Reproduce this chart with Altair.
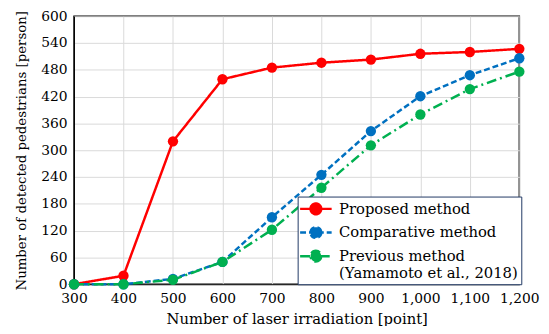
import altair as alt
import pandas as pd

x_points = [300, 400, 500, 600, 700, 800, 900, 1000, 1100, 1200]
proposed = [0, 19, 320, 459, 485, 496, 503, 516, 520, 527]
comparative = [0, 0, 12, 50, 150, 245, 343, 421, 468, 506]
previous = [0, 0, 10, 50, 122, 216, 311, 380, 437, 476]

series_names = ["Proposed method", "Comparative method",
                "Previous method (Yamamoto et al., 2018)"]
series_colors = ["#FF0000", "#0070C0", "#00B050"]
series_dashes = [[1, 0], [6, 3], [10, 4, 2, 4]]

rows = []
for name, vals in zip(series_names, [proposed, comparative, previous]):
    for xv, yv in zip(x_points, vals):
        rows.append({"x": xv, "y": yv, "series": name})
df = pd.DataFrame(rows)

FONT = "DejaVu Serif"

color = alt.Color("series:N", scale=alt.Scale(domain=series_names, range=series_colors),
                  legend=alt.Legend(
                      title=None, orient="none", legendX=227, legendY=183,
                      labelFont=FONT, labelFontSize=15, labelColor="black",
                      labelLimit=400,
                      labelExpr="datum.label == 'Previous method (Yamamoto et al., 2018)' ? ['Previous method', '(Yamamoto et al., 2018)'] : datum.label",
                      symbolType="M -2 0 L 2 0 M 0.68 0 A 0.68 0.68 0 1 1 -0.68 0 A 0.68 0.68 0 1 1 0.68 0 Z",
                      symbolSize=256, symbolStrokeWidth=2.5,
                      strokeColor="#1F3864", fillColor="white", padding=3,
                      symbolOffset=6, rowPadding=3, labelOffset=14))
dash = alt.StrokeDash("series:N", scale=alt.Scale(domain=series_names, range=series_dashes),
                      legend=None)

xenc = alt.X("x:Q", scale=alt.Scale(domain=[300, 1200], nice=False),
             axis=alt.Axis(values=x_points, format=",.0f", title="Number of laser irradiation [point]",
                           grid=True, labelOverlap=False, labelFlush=False, titleFontSize=15,
                           labelPadding=8, titlePadding=6))
yenc = alt.Y("y:Q", scale=alt.Scale(domain=[0, 600], nice=False),
             axis=alt.Axis(values=list(range(0, 601, 60)), format=".0f",
                           title="Number of detected pedestrians [person]", grid=True,
                           labelFlush=False,
                           titleFontSize=13.5, labelPadding=7, titlePadding=13))

lines = alt.Chart(df).mark_line(strokeWidth=2.5).encode(x=xenc, y=yenc, color=color, strokeDash=dash)
points = alt.Chart(df).mark_point(filled=True, size=110, opacity=1).encode(x=xenc, y=yenc, color=color)

chart = alt.layer(lines, points).properties(
    width=452, height=272,
    autosize=alt.AutoSizeParams(type="none"),
    padding={"left": 67, "top": 6, "right": 22, "bottom": 40},
).configure_view(stroke="black", strokeWidth=1.5).configure_axis(
    labelFont=FONT, titleFont=FONT, labelFontSize=14,
    labelColor="black", titleColor="black", titleFontWeight="normal",
    domainColor="black", ticks=False, gridColor="#D9D9D9", gridWidth=1,
)

chart.save("out.html", embed_options={"renderer": "svg", "actions": False})
